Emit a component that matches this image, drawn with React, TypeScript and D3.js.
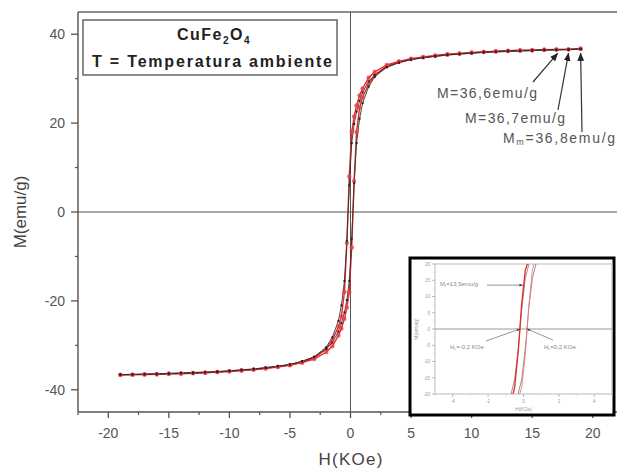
import React from "react";
import * as d3 from "d3";

// applied field (KOe), measured from +19 down to -19
const fieldH = [
  19, 18, 17, 16, 15, 14, 13, 12, 11, 10, 9, 8, 7, 6, 5, 4, 3, 2,
  1.5, 1, 0.75, 0.5, 0.3, 0.1,
  -0.1, -0.3, -0.5, -0.75, -1, -1.5,
  -2, -3, -4, -5, -6, -7, -8, -9, -10, -11, -12, -13, -14, -15, -16, -17, -18, -19,
];

const redDown = [
  36.8, 36.6, 36.6, 36.5, 36.4, 36.4, 36.3, 36.2, 36.0, 35.9, 35.7, 35.5, 35.2, 34.9, 34.5, 33.9, 33.1, 31.5,
  30.2, 27.8, 26.2, 24.0, 21.5, 18.0,
  8.0, -7.0, -18.0, -23.5, -25.8, -28.8,
  -30.8, -32.8, -33.8, -34.4, -34.8, -35.1, -35.4, -35.6, -35.8, -36.0, -36.1, -36.2, -36.3, -36.4, -36.5, -36.5, -36.6, -36.6,
];
const redUp = [
  36.7, 36.6, 36.5, 36.5, 36.4, 36.3, 36.2, 36.1, 36.0, 35.8, 35.6, 35.4, 35.1, 34.8, 34.4, 33.8, 32.8, 30.8,
  28.8, 25.8, 23.5, 18.0, 7.0, -8.0,
  -18.0, -21.5, -24.0, -26.2, -27.8, -30.2,
  -31.5, -33.1, -33.9, -34.5, -34.9, -35.2, -35.5, -35.7, -35.9, -36.0, -36.2, -36.3, -36.4, -36.4, -36.5, -36.6, -36.6, -36.7,
];
const blackDown = [
  36.7, 36.6, 36.5, 36.5, 36.4, 36.3, 36.3, 36.1, 36.0, 35.8, 35.6, 35.4, 35.1, 34.7, 34.3, 33.6, 32.6, 30.8,
  29.4, 26.9, 25.0, 22.6, 19.8, 15.5,
  6.0, -6.5, -15.5, -21.0, -24.5, -28.2,
  -30.4, -32.6, -33.6, -34.3, -34.7, -35.0, -35.3, -35.5, -35.7, -35.9, -36.0, -36.1, -36.2, -36.3, -36.4, -36.5, -36.5, -36.6,
];
const blackUp = [
  36.6, 36.5, 36.5, 36.4, 36.3, 36.2, 36.1, 36.0, 35.9, 35.7, 35.5, 35.3, 35.0, 34.7, 34.3, 33.6, 32.6, 30.4,
  28.2, 24.5, 21.0, 15.5, 6.5, -6.0,
  -15.5, -19.8, -22.6, -25.0, -26.9, -29.4,
  -30.8, -32.6, -33.6, -34.3, -34.7, -35.1, -35.4, -35.6, -35.8, -36.0, -36.1, -36.3, -36.3, -36.4, -36.5, -36.5, -36.6, -36.6,
];

const xTicks = [-20, -15, -10, -5, 0, 5, 10, 15, 20];
const yTicks = [-40, -20, 0, 20, 40];
const insetXTicks = [-4, -2, 0, 2, 4];
const insetYTicks = [20, 15, 10, 5, 0, -5, -10, -15, -20];

// saturation labels and the field where each arrow points
const satLabels = [
  { pre: "M", sub: "", post: "=36,6emu/g", h: 17.1 },
  { pre: "M", sub: "", post: "=36,7emu/g", h: 18.0 },
  { pre: "M", sub: "m", post: "=36,8emu/g", h: 19.0 },
];

const FONT = "'Liberation Sans', Arial, sans-serif";

export default function App() {
  const x = d3.scaleLinear().domain([-22.5, 22.5]).range([78, 623]);
  const y = d3.scaleLinear().domain([-45, 45]).range([412, 12]);

  const ix = d3.scaleLinear().domain([-5, 5]).range([435, 612]);
  const iy = d3.scaleLinear().domain([-20, 20]).range([394, 264]);

  const mainLine = d3
    .line<number>()
    .x((_, i) => x(fieldH[i]))
    .y((d) => y(d));
  const insetLine = d3
    .line<number>()
    .x((_, i) => ix(fieldH[i]))
    .y((d) => iy(d));

  const xMinor = d3.range(-22.5, 22.6, 2.5).filter((v) => !xTicks.includes(v));
  const yMinor = d3.range(-40, 41, 10).filter((v) => !yTicks.includes(v));
  const iyMinor = d3.range(-17.5, 18, 5);
  const ixMinor = [-5, -3, -1, 1, 3, 5];

  // annotation layout (label baselines and arrow tails)
  const labelPos = [
    { tx: 437, ty: 98, tail: [533, 82], w: 100 },
    { tx: 465, ty: 123, tail: [558, 110], w: 100 },
    { tx: 503, ty: 143, tail: [582, 132], w: 112 },
  ];

  return (
    <svg
      width={617}
      height={468}
      style={{ position: "absolute", left: 0, top: 0, background: "#fff" }}
      fontFamily={FONT}
    >
      <defs>
        <marker id="arr" viewBox="0 0 10 10" refX="9" refY="5" markerWidth="7" markerHeight="7" orient="auto">
          <path d="M0,1 L10,5 L0,9 Z" fill="#222" />
        </marker>
        <marker id="arrS" viewBox="0 0 10 10" refX="9" refY="5" markerWidth="5" markerHeight="5" orient="auto">
          <path d="M0,1 L10,5 L0,9 Z" fill="#444" />
        </marker>
        <clipPath id="insetClip">
          <rect x={435} y={264} width={177} height={130} />
        </clipPath>
      </defs>

      {/* frame */}
      <line x1={78} x2={617} y1={12} y2={12} stroke="#666" strokeWidth={1.6} />
      <line x1={78} x2={78} y1={12} y2={412} stroke="#666" strokeWidth={1.6} />
      <line x1={78} x2={617} y1={412} y2={412} stroke="#555" strokeWidth={1.6} />

      {/* zero lines */}
      <line x1={78} x2={617} y1={y(0)} y2={y(0)} stroke="#555" strokeWidth={1} />
      <line x1={x(0)} x2={x(0)} y1={12} y2={412} stroke="#555" strokeWidth={1} />

      {/* x axis ticks */}
      {xTicks.map((t) => (
        <g key={"xt" + t}>
          <line x1={x(t)} x2={x(t)} y1={412} y2={418} stroke="#555" strokeWidth={1.3} />
          <text x={x(t)} y={438} textAnchor="middle" fontSize={14} fill="#555">
            {t}
          </text>
        </g>
      ))}
      {xMinor.map((t) => (
        <line key={"xm" + t} x1={x(t)} x2={x(t)} y1={412} y2={415} stroke="#555" strokeWidth={1.2} />
      ))}

      {/* y axis ticks */}
      {yTicks.map((t) => (
        <g key={"yt" + t}>
          <line x1={71} x2={78} y1={y(t)} y2={y(t)} stroke="#555" strokeWidth={1.3} />
          <text x={65} y={y(t) + 5} textAnchor="end" fontSize={14} fill="#555">
            {t}
          </text>
        </g>
      ))}
      {yMinor.map((t) => (
        <line key={"ym" + t} x1={75} x2={78} y1={y(t)} y2={y(t)} stroke="#555" strokeWidth={1.2} />
      ))}

      {/* axis titles */}
      <text
        transform={`translate(26,${y(0)}) rotate(-90)`}
        textAnchor="middle"
        fontSize={17}
        fill="#444"
      >
        M(emu/g)
      </text>
      <text x={x(0)} y={465} textAnchor="middle" fontSize={17} fill="#444" textLength={64} lengthAdjust="spacing">
        H(KOe)
      </text>

      {/* loops */}
      <path d={mainLine(redDown) ?? ""} fill="none" stroke="#e8262b" strokeWidth={1.4} />
      <path d={mainLine(redUp) ?? ""} fill="none" stroke="#e8262b" strokeWidth={1.4} />
      <path d={mainLine(blackDown) ?? ""} fill="none" stroke="#333" strokeWidth={0.9} />
      <path d={mainLine(blackUp) ?? ""} fill="none" stroke="#333" strokeWidth={0.9} />
      {[redDown, redUp].map((s, k) =>
        s.map((m, i) => (
          <circle key={`r${k}-${i}`} cx={x(fieldH[i])} cy={y(m)} r={2.2} fill="#ee3a3f" fillOpacity={0.8} />
        ))
      )}
      {[blackDown, blackUp].map((s, k) =>
        s.map((m, i) => (
          <rect key={`b${k}-${i}`} x={x(fieldH[i]) - 1} y={y(m) - 1} width={2} height={2} fill="#222" />
        ))
      )}

      {/* legend box */}
      <rect x={83} y={20} width={254} height={55} fill="#fff" stroke="#666" strokeWidth={1.5} />
      <text x={214} y={40} textAnchor="middle" fontSize={16} fontWeight="bold" fill="#222" letterSpacing={1.5}>
        CuFe
        <tspan fontSize={10} dy={4}>2</tspan>
        <tspan dy={-4}>O</tspan>
        <tspan fontSize={10} dy={4}>4</tspan>
      </text>
      <text x={212} y={67} textAnchor="middle" fontSize={16} fontWeight="bold" fill="#222" textLength={240} lengthAdjust="spacing">
        T = Temperatura ambiente
      </text>

      {/* saturation annotations */}
      {satLabels.map((l, i) => {
        const p = labelPos[i];
        return (
          <g key={"sl" + i}>
            <line
              x1={p.tail[0]}
              y1={p.tail[1]}
              x2={x(l.h)}
              y2={y(35.7)}
              stroke="#333"
              strokeWidth={1.2}
              markerEnd="url(#arr)"
            />
            <text x={p.tx} y={p.ty} fontSize={14} fill="#555" textLength={p.w} lengthAdjust="spacing">
              {l.pre}
              {l.sub ? (
                <tspan fontSize={9} dy={2}>
                  {l.sub}
                </tspan>
              ) : null}
              {l.sub ? <tspan dy={-2}>{l.post}</tspan> : l.post}
            </text>
          </g>
        );
      })}

      {/* inset */}
      <rect x={410} y={258} width={204} height={157} fill="#fff" stroke="#000" strokeWidth={3} />
      <rect x={435} y={264} width={177} height={130} fill="none" stroke="#bbb" strokeWidth={1} />
      <line x1={435} x2={612} y1={iy(0)} y2={iy(0)} stroke="#999" strokeWidth={1} />
      {insetYTicks.map((t) => (
        <g key={"iyt" + t}>
          <line x1={432} x2={435} y1={iy(t)} y2={iy(t)} stroke="#aaa" strokeWidth={0.8} />
          <text x={430} y={iy(t) + 1.8} textAnchor="end" fontSize={4.5} fill="#999">
            {t}
          </text>
        </g>
      ))}
      {iyMinor.map((t) => (
        <line key={"iym" + t} x1={433.5} x2={435} y1={iy(t)} y2={iy(t)} stroke="#bbb" strokeWidth={0.6} />
      ))}
      {insetXTicks.map((t) => (
        <g key={"ixt" + t}>
          <line x1={ix(t)} x2={ix(t)} y1={394} y2={397} stroke="#aaa" strokeWidth={0.8} />
          <text x={ix(t)} y={403} textAnchor="middle" fontSize={4.5} fill="#999">
            {t}
          </text>
        </g>
      ))}
      {ixMinor.map((t) => (
        <line key={"ixm" + t} x1={ix(t)} x2={ix(t)} y1={394} y2={395.5} stroke="#bbb" strokeWidth={0.6} />
      ))}
      <text transform={`translate(418,${iy(0)}) rotate(-90)`} textAnchor="middle" fontSize={5} fill="#999">
        M(emu/g)
      </text>
      <text x={ix(0)} y={411} textAnchor="middle" fontSize={5} fill="#999">
        H(KOe)
      </text>
      <g clipPath="url(#insetClip)">
        <path d={insetLine(blackDown) ?? ""} fill="none" stroke="#777" strokeWidth={0.8} />
        <path d={insetLine(blackUp) ?? ""} fill="none" stroke="#777" strokeWidth={0.8} />
        <path d={insetLine(redDown) ?? ""} fill="none" stroke="#e8262b" strokeWidth={1.3} />
        <path d={insetLine(redUp) ?? ""} fill="none" stroke="#ee7a7d" strokeWidth={0.9} />
      </g>
      <text x={440} y={286} fontSize={6} fill="#888">
        M<tspan fontSize={4} dy={1}>r</tspan>
        <tspan dy={-1}>=13,5emu/g</tspan>
      </text>
      <line x1={487} y1={iy(13.5)} x2={ix(-0.05)} y2={iy(13.5)} stroke="#666" strokeWidth={0.7} markerEnd="url(#arrS)" />
      <text x={450} y={349} fontSize={6} fill="#888">
        H<tspan fontSize={4} dy={1}>c</tspan>
        <tspan dy={-1}>=-0,2 KOe</tspan>
      </text>
      <line x1={486} y1={341} x2={ix(-0.2)} y2={iy(0)} stroke="#666" strokeWidth={0.7} markerEnd="url(#arrS)" />
      <text x={544} y={349} fontSize={6} fill="#888">
        H<tspan fontSize={4} dy={1}>c</tspan>
        <tspan dy={-1}>=0,2 KOe</tspan>
      </text>
      <line x1={553} y1={340} x2={ix(0.2)} y2={iy(0)} stroke="#666" strokeWidth={0.7} markerEnd="url(#arrS)" />
    </svg>
  );
}
